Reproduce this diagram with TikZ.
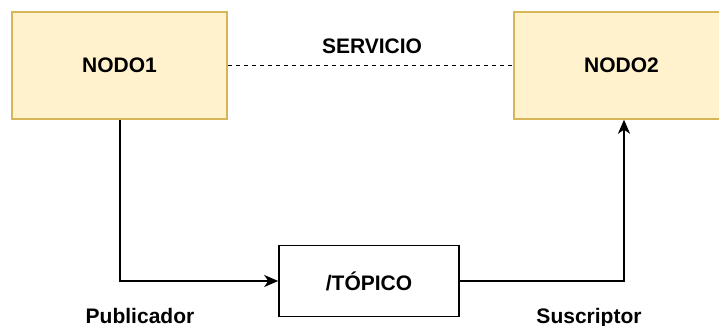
\documentclass[tikz,border=0pt]{standalone}
\usepackage{fontspec}
\setmainfont{Liberation Sans}
\usetikzlibrary{arrows.meta}
\definecolor{nodefill}{HTML}{FFF2CC}
\definecolor{nodeline}{HTML}{D6B656}
\tikzset{
  lbl/.style={font=\fontsize{21}{25}\selectfont\bfseries, inner sep=0pt},
  rosnode/.style={draw=nodeline, fill=nodefill, line width=1.4pt, minimum width=215pt, minimum height=107pt, inner sep=0pt, font=\fontsize{21}{25}\selectfont\bfseries},
  topicbox/.style={draw=black, line width=1.6pt, minimum width=180pt, minimum height=71pt, inner sep=0pt, font=\fontsize{21}{25}\selectfont\bfseries},
  conn/.style={line width=1.6pt, -{Stealth[length=14pt,width=12pt,inset=4pt]}}
}
\begin{document}
\begin{tikzpicture}[x=1pt,y=-1pt]
\useasboundingbox (0,0) rectangle (719,326);
\node[rosnode] (n1) at (119.5,65.5) {NODO1};
\node[rosnode] (n2) at (621.5,65.5) {NODO2};
\node[topicbox] (t) at (369,281) {/TÓPICO};
\draw[line width=1.2pt, dash pattern=on 4.5pt off 3.5pt] (n1.east) -- (n2.west);
\node[lbl] (srv) at (372,46) {SERVICIO};
\coordinate (c1) at (120,281);
\coordinate (c2) at (624,281);
\draw[conn] (n1.south -| c1) -- (c1) -- (t.west);
\draw[conn] (t.east) -- (c2) -- (n2.south -| c2);
\node[lbl, anchor=base] (pub) at (140,323) {Publicador};
\node[lbl, anchor=base] (sus) at (589,323) {Suscriptor};
\end{tikzpicture}
\end{document}
